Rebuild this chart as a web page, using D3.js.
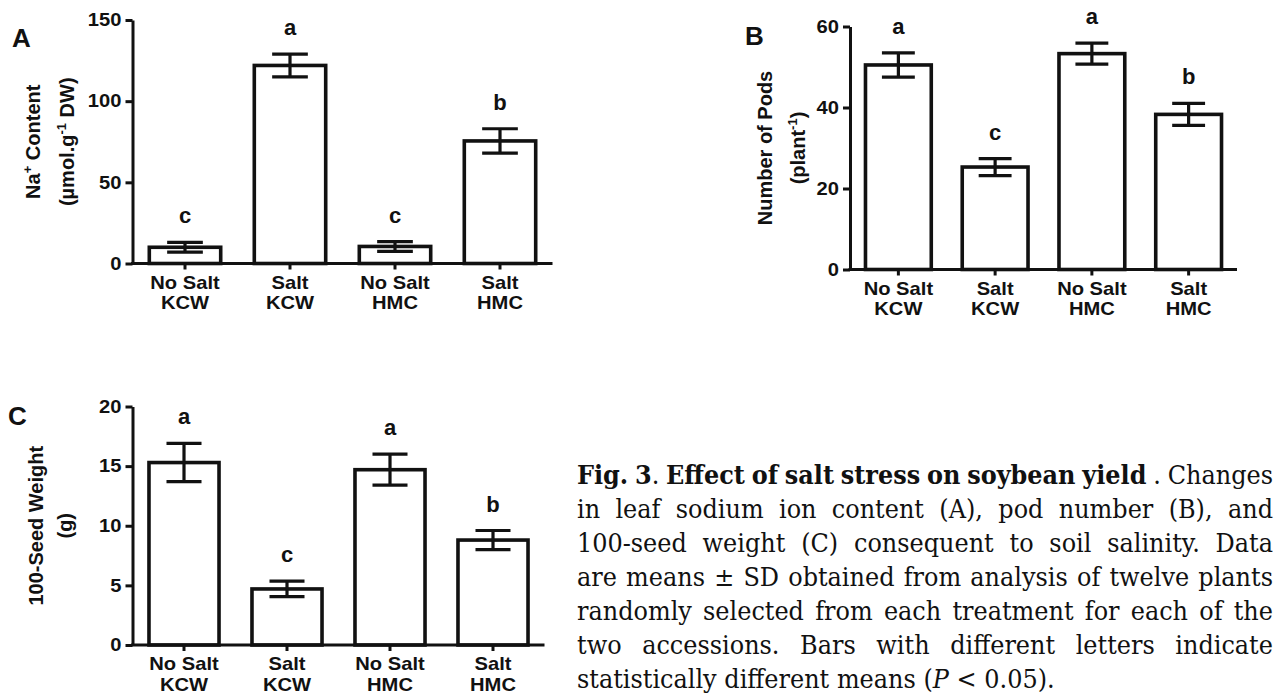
<!DOCTYPE html>
<html><head><meta charset="utf-8">
<script src="https://cdn.jsdelivr.net/npm/d3@7"></script>
<style>body{margin:0;background:#fff} svg{display:block}</style>
</head><body>
<svg id="fig" width="1278" height="695"></svg>
<script>
// ---------- data ----------
const categories = [["No Salt","KCW"],["Salt","KCW"],["No Salt","HMC"],["Salt","HMC"]];

const naMean = [10, 122, 10.5, 75.5];
const naSD = [3, 7, 3, 7.5];
const naLetters = ["c","a","c","b"];
const naTicks = [0, 50, 100, 150];
const naTitle = [[["Na",0],["+",1],[" Content",0]], [["(µmol.g",0],["-1",1],[" DW)",0]]];

const podMean = [50.5, 25.3, 53.3, 38.3];
const podSD = [3, 2.1, 2.6, 2.7];
const podLetters = ["a","c","a","b"];
const podTicks = [0, 20, 40, 60];
const podTitle = [[["Number of Pods",0]], [["(plant",0],["-1",1],[")",0]]];

const seedMean = [15.3, 4.7, 14.7, 8.8];
const seedSD = [1.6, 0.65, 1.3, 0.8];
const seedLetters = ["a","c","a","b"];
const seedTicks = [0, 5, 10, 15, 20];
const seedTitle = [[["100-Seed Weight",0]], [["(g)",0]]];

const captionLines = [
  "**Fig. 3**. **Effect of salt stress on soybean yield** . Changes",
  "in leaf sodium ion content (A), pod number (B), and",
  "100-seed weight (C) consequent to soil salinity. Data",
  "are means ± SD obtained from analysis of twelve plants",
  "randomly selected from each treatment for each of the",
  "two accessions. Bars with different letters indicate",
  "statistically different means (_P_ < 0.05)."
];

// ---------- layout ----------
const panels = [
  {label:"A", mean:naMean, sd:naSD, letters:naLetters, ticks:naTicks, title:naTitle,
   left:132.5, top:20, width:420, height:243.5, lx:12, ly:47, tx:[40,74]},
  {label:"B", mean:podMean, sd:podSD, letters:podLetters, ticks:podTicks, title:podTitle,
   left:850, top:26.5, width:387, height:243, lx:745, ly:45, tx:[772,805]},
  {label:"C", mean:seedMean, sd:seedSD, letters:seedLetters, ticks:seedTicks, title:seedTitle,
   left:132.5, top:406.5, width:412, height:238.5, lx:8, ly:425, tx:[43,72]}
];

const svg = d3.select("#fig");
svg.append("rect").attr("width",1278).attr("height",695).attr("fill","#fff");
const SANS = "'Liberation Sans', Arial, sans-serif";
const INK = "#111";
const SX = 1.12;

panels.forEach(p => {
  const g = svg.append("g").attr("transform", `translate(${p.left},${p.top})`);
  const idx = categories.map((c,i)=>i);
  const x = d3.scaleBand().domain(idx).range([0,p.width]).paddingInner(0.32).paddingOuter(0.16);
  const y = d3.scaleLinear().domain([0, d3.max(p.ticks)]).range([p.height, 0]);

  // bars
  g.selectAll("rect.bar").data(idx).join("rect").attr("class","bar")
    .attr("x", i=>x(i)).attr("width", x.bandwidth())
    .attr("y", i=>y(p.mean[i])).attr("height", i=>y(0)-y(p.mean[i]))
    .attr("fill","#fff").attr("stroke",INK).attr("stroke-width",3.6);

  // error bars
  const capW = x.bandwidth()/2;
  const eb = g.selectAll("g.eb").data(idx).join("g").attr("class","eb")
    .attr("stroke",INK).attr("stroke-width",3.2);
  eb.append("line").attr("x1",i=>x(i)+x.bandwidth()/2).attr("x2",i=>x(i)+x.bandwidth()/2)
    .attr("y1",i=>y(p.mean[i]+p.sd[i])).attr("y2",i=>y(p.mean[i]-p.sd[i]));
  [1,-1].forEach(s=>{
    eb.append("line").attr("x1",i=>x(i)+x.bandwidth()/2-capW/2).attr("x2",i=>x(i)+x.bandwidth()/2+capW/2)
      .attr("y1",i=>y(p.mean[i]+s*p.sd[i])).attr("y2",i=>y(p.mean[i]+s*p.sd[i]));
  });

  // significance letters
  g.selectAll("text.sig").data(idx).join("text").attr("class","sig")
    .attr("x",i=>x(i)+x.bandwidth()/2).attr("y",i=>y(p.mean[i]+p.sd[i])-19)
    .attr("text-anchor","middle").attr("font-family",SANS).attr("font-weight","bold")
    .attr("font-size",22).attr("fill",INK).text(i=>p.letters[i]);

  // y axis
  const ya = g.append("g").call(d3.axisLeft(y).tickValues(p.ticks).tickSize(7).tickSizeOuter(0));
  ya.selectAll("path,line").attr("stroke",INK).attr("stroke-width",3);
  ya.selectAll("text").attr("font-family",SANS).attr("font-weight","bold").attr("font-size",18)
    .attr("fill",INK).attr("x",-11/SX).attr("transform",`scale(${SX},1)`);
  ya.attr("font-size",null).attr("font-family",null);

  // x axis
  const xa = g.append("g").attr("transform",`translate(0,${p.height})`)
    .call(d3.axisBottom(x).tickSize(6).tickSizeOuter(0).tickFormat(""));
  xa.selectAll("path,line").attr("stroke",INK).attr("stroke-width",3);
  xa.selectAll("path").attr("d",`M-1.5,0H${p.width}`);
  xa.selectAll(".tick").each(function(i){
    const t = d3.select(this).append("text").attr("font-family",SANS).attr("font-weight","bold")
      .attr("font-size",18).attr("fill",INK).attr("text-anchor","middle")
      .attr("transform",`scale(${SX},1)`);
    t.append("tspan").attr("x",0).attr("y",25.5).text(categories[i][0]);
    t.append("tspan").attr("x",0).attr("y",46).text(categories[i][1]);
  });

  // y title (two rotated lines)
  const cy = p.top + p.height/2;
  p.title.forEach((segs, li) => {
    const t = svg.append("text").attr("transform",`translate(${p.tx[li]},${cy}) rotate(-90)`)
      .attr("text-anchor","middle").attr("font-family",SANS).attr("font-weight","bold")
      .attr("font-size",20).attr("fill",INK);
    let up = false;
    segs.forEach(([s, sup]) => {
      const ts = t.append("tspan").text(s);
      if (sup && !up) { ts.attr("dy",-8).attr("font-size",13); up = true; }
      else if (!sup && up) { ts.attr("dy",8); up = false; }
    });
  });

  // panel label
  svg.append("text").attr("x",p.lx).attr("y",p.ly).attr("font-family",SANS)
    .attr("font-weight","bold").attr("font-size",26).attr("fill",INK).text(p.label);
});

// ---------- caption (justified) ----------
const CAP_X = 577, CAP_W = 696, CAP_Y0 = 484, CAP_DY = 34, CAP_FS = 25.5, CAP_K = 0.94;
const SERIF = "'DejaVu Serif', serif";
const cap = svg.append("g").attr("font-family",SERIF).attr("font-size",CAP_FS).attr("fill","#111");

function parseLine(line){
  const words = line.split(" ").filter(w=>w.length);
  let bold=false, ital=false;
  return words.map(w=>{
    const parts = w.split(/(\*\*|_)/);
    const segs = [];
    parts.forEach(pt=>{
      if (pt==="**") bold=!bold;
      else if (pt==="_") ital=!ital;
      else if (pt.length) segs.push({t:pt,b:bold,i:ital});
    });
    return segs;
  });
}

const spaceW = (()=>{const t=cap.append("text").text("a a");const w1=t.node().getComputedTextLength();
  t.text("aa");const w2=t.node().getComputedTextLength();t.remove();return w1-w2;})();

captionLines.forEach((line, li) => {
  const words = parseLine(line);
  const lg = cap.append("g");
  const nodes = words.map(segs=>{
    const t = lg.append("text").attr("y",0);
    segs.forEach(s=>{
      const ts=t.append("tspan").text(s.t);
      if (s.b) ts.attr("font-weight","bold");
      if (s.i) ts.attr("font-style","italic");
    });
    return t;
  });
  const widths = nodes.map(n=>n.node().getComputedTextLength());
  const S = d3.sum(widths), n = nodes.length;
  const last = li === captionLines.length-1;
  let k = CAP_K;
  let gap = last ? spaceW : (CAP_W/k - S)/(n-1);
  const minGap = 0.22*CAP_FS;
  if (!last && gap < minGap) { k = CAP_W/(S + (n-1)*minGap); gap = minGap; }
  let cx = 0;
  nodes.forEach((nd,i)=>{ nd.attr("x",cx); cx += widths[i] + gap; });
  lg.attr("transform",`translate(${CAP_X},${CAP_Y0 + li*CAP_DY}) scale(${k},1)`);
});
</script>
</body></html>
